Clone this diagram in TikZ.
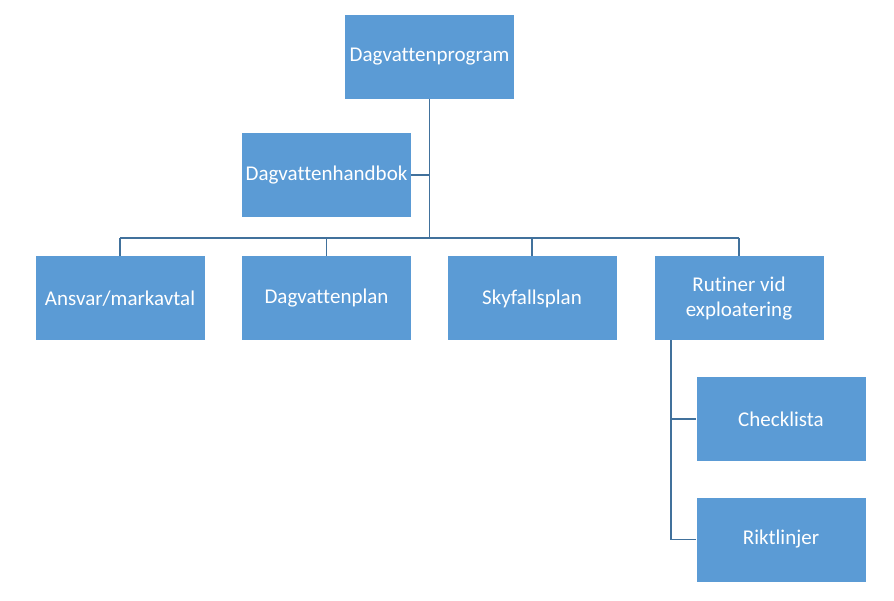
\documentclass[tikz,border=0pt]{standalone}
\usepackage{fontspec}
\setmainfont[Ligatures=NoCommon]{Carlito}
\usetikzlibrary{positioning,calc}
\definecolor{boxblue}{RGB}{91,155,213}
\definecolor{lineblue}{RGB}{65,113,156}

\begin{document}
\begin{tikzpicture}[x=1pt,y=-1pt,
  every node/.style={font=\fontsize{21}{24.5}\selectfont},
  orgbox/.style={fill=boxblue,text=white,minimum width=169pt,minimum height=84pt,
    inner sep=0pt,align=center},
  link/.style={draw=lineblue,line width=1.1pt}]
  \useasboundingbox (0,0) rectangle (894,601);

  % top level
  \node[orgbox] (prog) at (429.5,57) {Dagvattenprogram};
  \node[orgbox] (handbok) at (326.5,175) {Dagvattenhandbok};

  % second level
  \node[orgbox] (ansvar) at (120,298.5) {Ansvar/markavtal};
  \node[orgbox] (plan) at (326.5,298.5) {Dagvattenplan};
  \node[orgbox] (skyfall) at (532,298.5) {Skyfallsplan};
  \node[orgbox] (rutiner) at (739,298.5) {Rutiner vid\\exploatering};

  % below Rutiner
  \node[orgbox] (check) at (781,419) {Checklista};
  \node[orgbox] (rikt) at (781,539.5) {Riktlinjer};

  % connectors
  \coordinate (bus) at (429.5,238);
  \coordinate (drop) at (671,340.5);
  \draw[link] (prog.south) -- (bus);
  \draw[link] (handbok.east) -- (handbok.east -| prog.south);
  \draw[link] (ansvar.north |- bus) -- (rutiner.north |- bus);
  \foreach \n in {ansvar,plan,skyfall,rutiner}
    \draw[link] (\n.north |- bus) -- (\n.north);
  \draw[link] (drop) -- (drop |- rikt.west) -- (rikt.west);
  \draw[link] (drop |- check.west) -- (check.west);
\end{tikzpicture}
\end{document}
